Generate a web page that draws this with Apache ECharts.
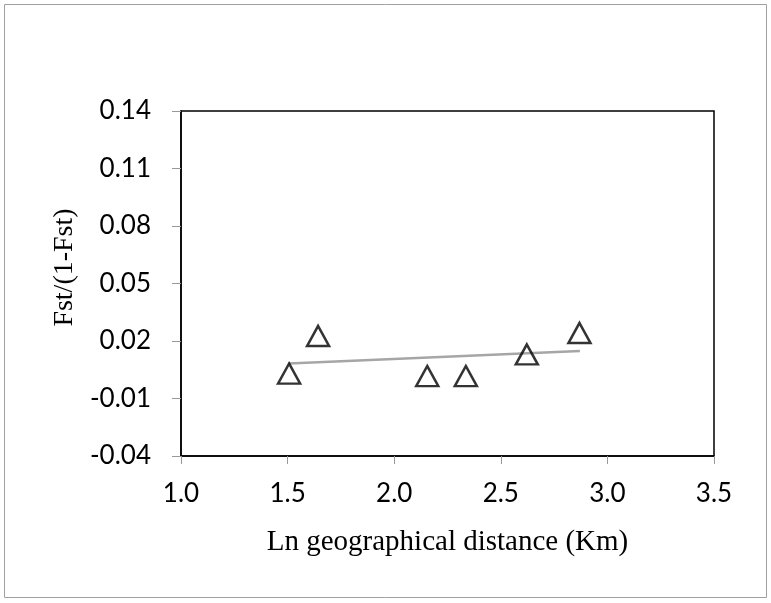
<!DOCTYPE html>
<html>
<head>
<meta charset="utf-8">
<script src="https://cdn.jsdelivr.net/npm/echarts@6/dist/echarts.min.js"></script>
<style>html,body{margin:0;padding:0;background:#fff}#c{width:771px;height:603px}</style>
</head>
<body>
<div id="c"></div>
<script>
const distX = [1.507, 1.643, 2.155, 2.336, 2.622, 2.869];
const fstY = [0.003, 0.0226, 0.0017, 0.0017, 0.013, 0.0242];
const trendX = [1.505, 2.871];
const trendY = [0.0083, 0.0148];
const yTicks = [-0.04, -0.01, 0.02, 0.05, 0.08, 0.11, 0.14];
const xTicks = [1.0, 1.5, 2.0, 2.5, 3.0, 3.5];

const chart = echarts.init(document.getElementById('c'));
chart.setOption({
  animation: false,
  backgroundColor: '#fff',
  graphic: [{
    type: 'rect', shape: {x: 4.5, y: 4.5, width: 762, height: 593},
    style: {fill: 'none', stroke: '#a0a0a0', lineWidth: 1}
  }],
  grid: {left: 181, right: 57, top: 111, bottom: 147, show: true, borderColor: '#000', borderWidth: 1.5, containLabel: false},
  xAxis: {
    type: 'value', min: xTicks[0], max: xTicks[xTicks.length - 1], interval: 0.5,
    name: 'Ln geographical distance (Km)', nameLocation: 'middle', nameGap: 72,
    nameTextStyle: {fontFamily: 'Liberation Serif', fontSize: 29, color: '#000'},
    axisLine: {show: true, onZero: false, lineStyle: {color: '#000', width: 1.5}},
    axisTick: {show: true, length: 8, lineStyle: {color: '#999', width: 1}},
    axisLabel: {fontFamily: 'Lato', fontSize: 26, color: '#000', margin: 25, formatter: v => v.toFixed(1)},
    splitLine: {show: false}
  },
  yAxis: {
    type: 'value', min: yTicks[0], max: yTicks[yTicks.length - 1], interval: 0.03,
    name: 'Fst/(1-Fst)', nameLocation: 'middle', nameGap: 98, nameRotate: 90,
    nameTextStyle: {fontFamily: 'Liberation Serif', fontSize: 28, color: '#000', padding: [0, 0, 0, 32]},
    axisLine: {show: true, onZero: false, lineStyle: {color: '#000', width: 1.5}},
    axisTick: {show: true, length: 9, lineStyle: {color: '#999', width: 1}},
    axisLabel: {fontFamily: 'Lato', fontSize: 26, color: '#000', margin: 30, formatter: v => v.toFixed(2)},
    splitLine: {show: false}
  },
  series: [
    {
      type: 'line', data: trendX.map((x, i) => [x, trendY[i]]), symbol: 'none',
      lineStyle: {color: '#a6a6a6', width: 2.5}, z: 2
    },
    {
      type: 'scatter', data: distX.map((x, i) => [x, fstY[i]]), symbol: 'triangle', symbolSize: [22, 20],
      itemStyle: {color: 'rgba(255,255,255,0)', borderColor: '#000', borderWidth: 2.5}, z: 3
    }
  ]
});
</script>
</body>
</html>
